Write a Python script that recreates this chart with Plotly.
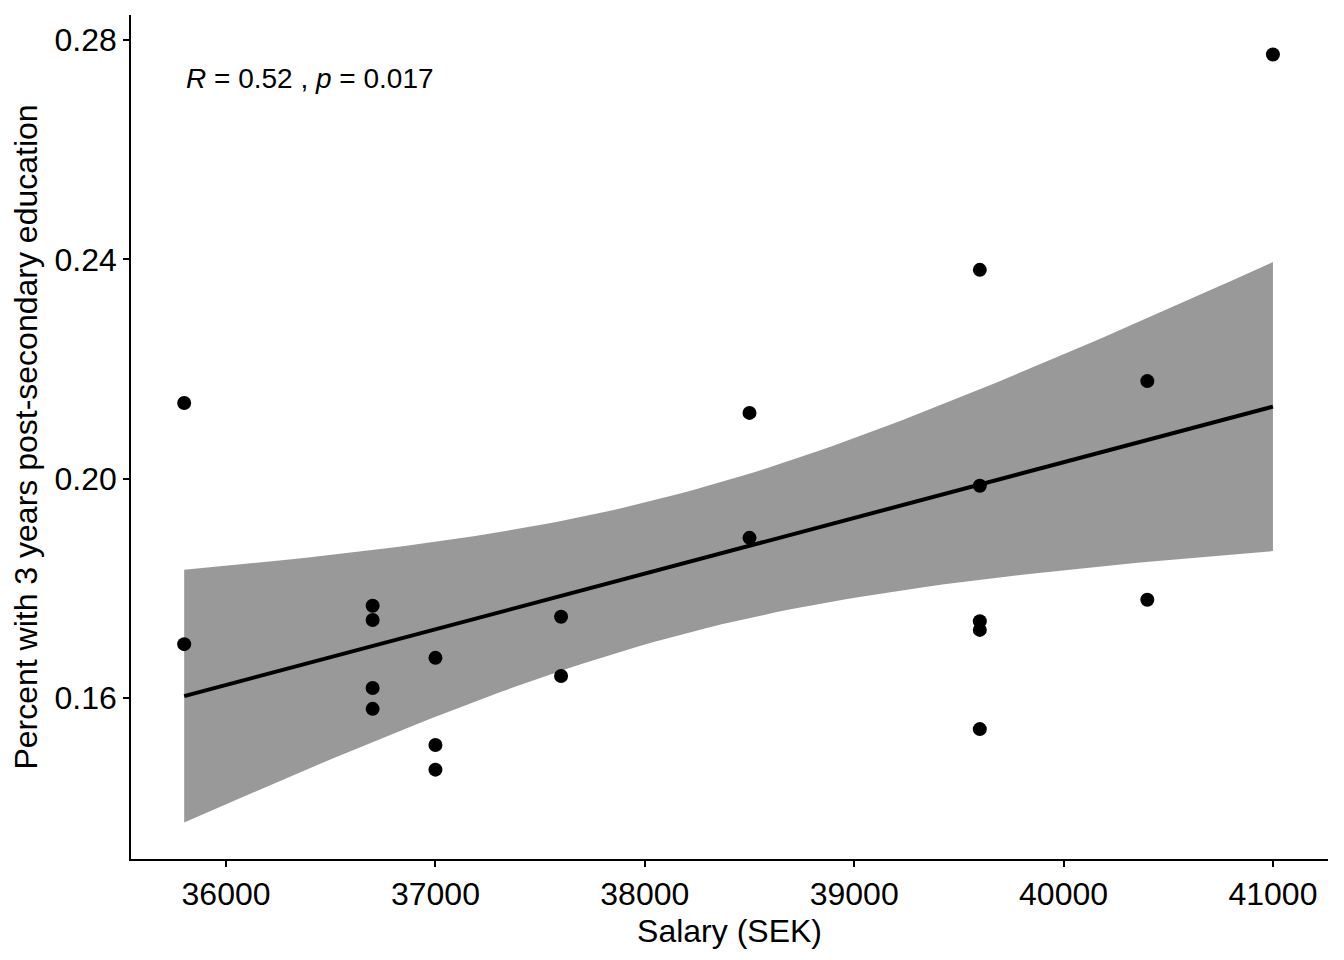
import numpy as np
import plotly.graph_objects as go

# salary (SEK) per group and share with 3+ years post-secondary education
salary = [35800, 35800,
          36700, 36700, 36700, 36700,
          37000, 37000, 37000,
          37600, 37600,
          38500, 38500,
          39600, 39600, 39600, 39600, 39600,
          40400, 40400,
          41000]
share = [0.2138, 0.1698,
         0.1768, 0.1742, 0.1618, 0.1580,
         0.1673, 0.1514, 0.1469,
         0.1748, 0.1640,
         0.2120, 0.1892,
         0.2381, 0.1987, 0.1740, 0.1724, 0.1543,
         0.2178, 0.1779,
         0.2774]
stat_label = "<i>R</i> = 0.52 , <i>p</i> = 0.017"
x_ticks = [36000, 37000, 38000, 39000, 40000, 41000]
y_ticks = [0.16, 0.20, 0.24, 0.28]

x = np.array(salary, dtype=float)
y = np.array(share, dtype=float)
n = len(x)
slope, intercept = np.polyfit(x, y, 1)
resid = y - (intercept + slope * x)
s = np.sqrt(np.sum(resid ** 2) / (n - 2))
t_crit = 2.093  # t(0.975, df=19)
grid = np.linspace(x.min(), x.max(), 80)
fit = intercept + slope * grid
se = s * np.sqrt(1 / n + (grid - x.mean()) ** 2 / np.sum((x - x.mean()) ** 2))
lo, hi = fit - t_crit * se, fit + t_crit * se

FONT = "Liberation Sans, Arial"

fig = go.Figure()
fig.add_trace(go.Scatter(
    x=np.concatenate([grid, grid[::-1]]),
    y=np.concatenate([hi, lo[::-1]]),
    fill="toself", fillcolor="#999999", line={"width": 0},
    mode="lines", hoverinfo="skip", showlegend=False,
))
fig.add_trace(go.Scatter(
    x=grid, y=fit, mode="lines",
    line={"color": "black", "width": 4}, showlegend=False,
))
fig.add_trace(go.Scatter(
    x=salary, y=share, mode="markers",
    marker={"color": "black", "size": 14}, showlegend=False,
))

fig.add_annotation(
    x=x.min(), y=0.2731, text=stat_label, showarrow=False,
    xanchor="left", yanchor="middle",
    font={"family": FONT, "size": 28, "color": "black"},
)

axis_common = dict(
    showline=True, linecolor="black", linewidth=1.5,
    ticks="outside", ticklen=6, tickcolor="black", tickwidth=1.5,
    showgrid=False, zeroline=False,
    tickfont={"family": FONT, "size": 32, "color": "black"},
    title_font={"family": FONT, "size": 32, "color": "black"},
)
fig.update_xaxes(
    range=[35546, 41263], tickvals=x_ticks, tickformat="d",
    title_text="Salary (SEK)", title_standoff=8, **axis_common,
)
fig.update_yaxes(
    range=[0.1306, 0.2846], tickvals=y_ticks, tickformat=".2f",
    title_text="Percent with 3 years post-secondary education",
    title_standoff=8, **axis_common,
)
fig.update_layout(
    width=1344, height=960,
    margin={"l": 123, "r": 24, "t": 7, "b": 109},
    plot_bgcolor="white", paper_bgcolor="white",
)

fig.write_html("out.html")
